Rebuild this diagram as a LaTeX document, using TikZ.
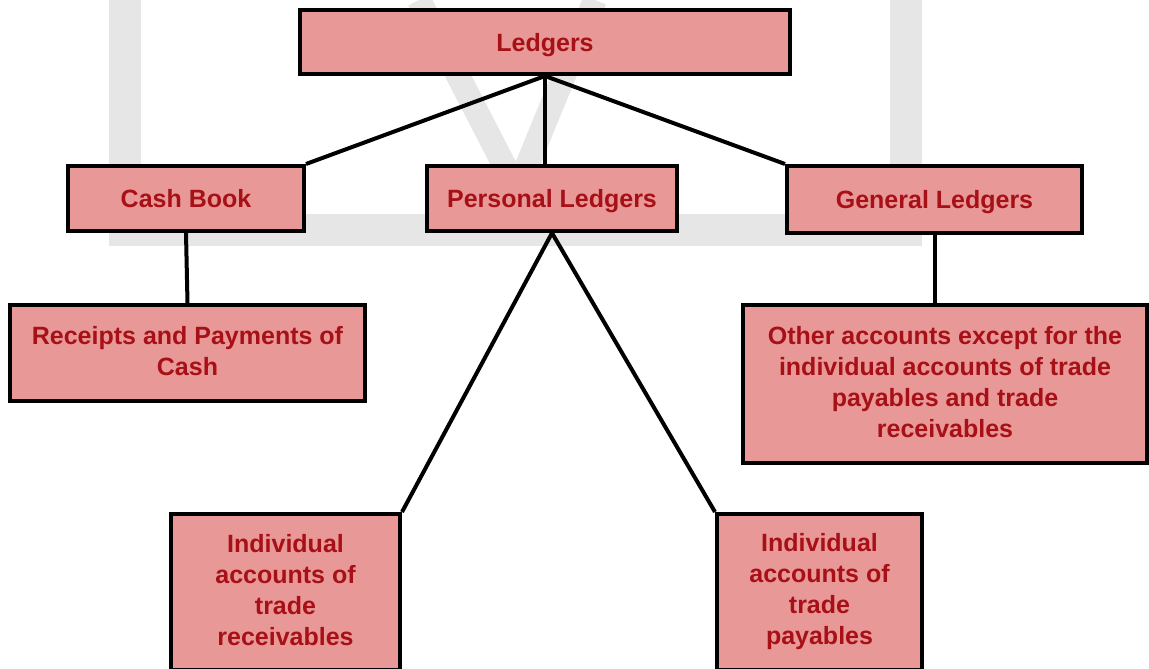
\documentclass[tikz,border=0pt]{standalone}
\usepackage{fontspec}
\setmainfont{Liberation Sans}
\usepackage{tikz}
\usetikzlibrary{positioning}
\definecolor{boxfill}{RGB}{233,152,152}
\definecolor{boxtext}{RGB}{166,16,22}
\definecolor{wmgray}{RGB}{230,230,230}
\newcommand{\boxstrut}{\rule[-4.5pt]{0pt}{27.9pt}}

\begin{document}
\begin{tikzpicture}[x=1pt, y=-1pt,
    box/.style = {draw, line width=4pt, fill=boxfill, text=boxtext, align=center,
      font=\fontsize{25}{31}\selectfont\bfseries, inner sep=0pt,
      execute at begin node=\boxstrut, execute at end node=\boxstrut},
    link/.style = {line width=4pt}]
    \useasboundingbox (0,0) rectangle (1149,669);
    % watermark
    \draw[wmgray, line width=32pt] (124.5,0) -- (124.5,229.5) -- (905.5,229.5) -- (905.5,0);
    \draw[wmgray, line width=24pt] (419,0) -- (517,190) -- (595,0);
    % boxes
    \node[box, minimum width=490pt, minimum height=64pt] (ledgers) at (545,42) {Ledgers};
    \node[box, minimum width=236pt, minimum height=65pt] (cash) at (186,198.5) {Cash Book};
    \node[box, minimum width=250pt, minimum height=65pt] (personal) at (552,198.5) {Personal Ledgers};
    \node[box, minimum width=295pt, minimum height=67pt] (general) at (934.5,199.5) {General Ledgers};
    \node[box, minimum width=355pt, minimum height=96pt] (receipts) at (187.5,353) {Receipts and Payments of\\Cash};
    \node[box, minimum width=404pt, minimum height=158pt] (others) at (945,384)
      {Other accounts except for the\\individual accounts of trade\\payables and trade\\receivables};
    \node[box, minimum width=229pt, minimum height=156pt] (receivables) at (285.5,592)
      {Individual\\accounts of\\trade\\receivables};
    \node[box, minimum width=205pt, minimum height=156pt] (payables) at (819.5,592)
      {Individual\\accounts of\\trade\\payables};
    % links
    \draw[link] (ledgers.south) -- (cash.north east);
    \draw[link] (ledgers.south) -- (ledgers.south |- personal.north);
    \draw[link] (ledgers.south) -- (general.north west);
    \draw[link] (cash.south) -- (receipts.north);
    \draw[link] (personal.south) -- (receivables.north east);
    \draw[link] (personal.south) -- (payables.north west);
    \draw[link] (general.south) -- (others.north -| general.south);
\end{tikzpicture}
\end{document}
